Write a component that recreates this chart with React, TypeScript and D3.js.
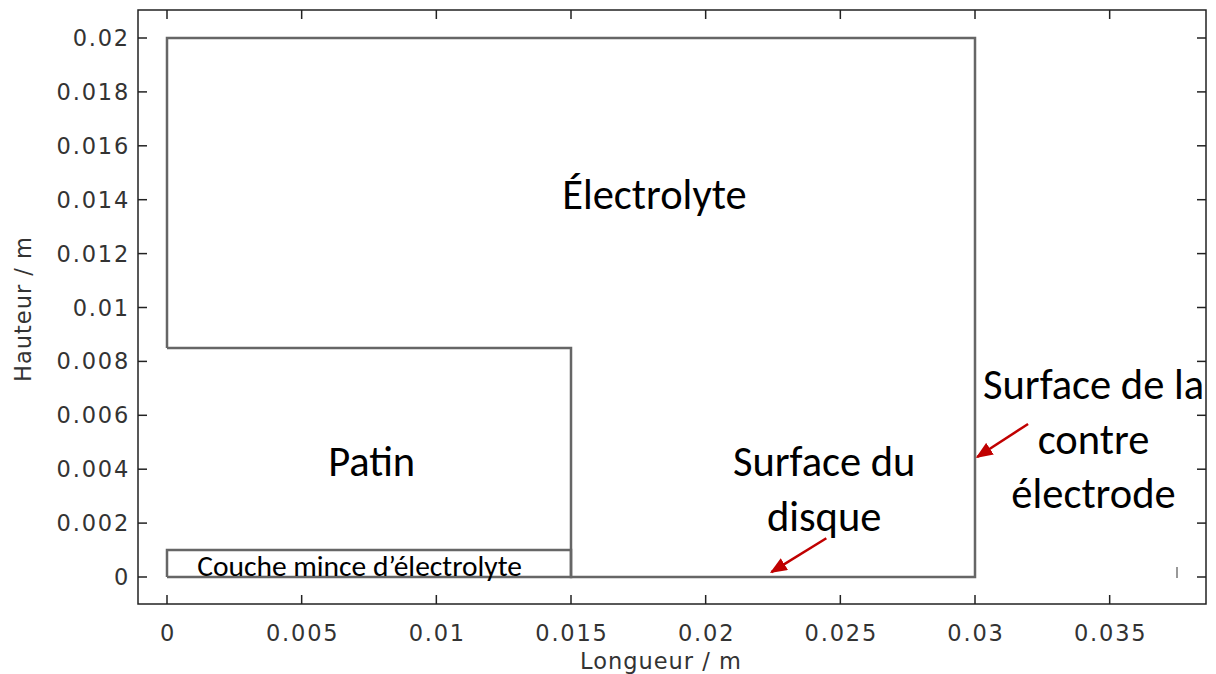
import React from 'react';
import * as d3 from 'd3';

// geometry of the model (metres)
const outerDomain: [number, number][] = [
  [0, 0.0085], [0, 0.02], [0.03, 0.02], [0.03, 0], [0.015, 0], [0.015, 0.0085], [0, 0.0085],
];
const thinLayer: [number, number][] = [
  [0, 0], [0.015, 0], [0.015, 0.001], [0, 0.001], [0, 0],
];
const xTicks = [0, 0.005, 0.01, 0.015, 0.02, 0.025, 0.03, 0.035];
const yTicks = [0, 0.002, 0.004, 0.006, 0.008, 0.01, 0.012, 0.014, 0.016, 0.018, 0.02];
const xTickLabels = ['0', '0.005', '0.01', '0.015', '0.02', '0.025', '0.03', '0.035'];
const yTickLabels = ['0', '0.002', '0.004', '0.006', '0.008', '0.01', '0.012', '0.014', '0.016', '0.018', '0.02'];

// annotations: text lines, x centre and first baseline in data units
const labels = [
  { lines: ['Électrolyte'], x: 0.0181, y: 0.01365 },
  { lines: ['Patin'], x: 0.0076, y: 0.00374 },
  { lines: ['Surface du', 'disque'], x: 0.0244, y: 0.00374 },
  { lines: ['Surface de la', 'contre', 'électrode'], x: 0.0344, y: 0.00660 },
];
const arrows = [
  { from: [0.02448, 0.00144], to: [0.02244, 0.00018] },
  { from: [0.03197, 0.00568], to: [0.03008, 0.00445] },
];

const W = 1216;
const H = 674;
const frame = { left: 138, top: 10, right: 1206, bottom: 604 };

export default function App() {
  const x = d3.scaleLinear().domain([0, 0.03]).range([167, 975]);
  const y = d3.scaleLinear().domain([0, 0.02]).range([577, 38]);
  const line = d3.line<[number, number]>().x(d => x(d[0])).y(d => y(d[1]));
  const tickFont = { fontFamily: 'DejaVu Sans', fontSize: 22.5, fill: '#333', letterSpacing: 1.8 };
  const annFont = 'Carlito, "Open Sans", "Noto Sans", sans-serif';
  const tl = 9;

  return (
    <svg width={W} height={H} style={{ position: 'absolute', left: 0, top: 0, background: '#fff' }}>
      <defs>
        <marker id="ah" viewBox="0 0 10 10" refX="9" refY="5" markerWidth="17" markerHeight="14"
          markerUnits="userSpaceOnUse" orient="auto" preserveAspectRatio="none">
          <path d="M0,0 L10,5 L0,10 z" fill="#c00000" />
        </marker>
      </defs>
      <rect x={frame.left} y={frame.top} width={frame.right - frame.left} height={frame.bottom - frame.top}
        fill="none" stroke="#222" strokeWidth={1.5} />
      {xTicks.map((t, i) => (
        <g key={'x' + i}>
          <line x1={x(t)} x2={x(t)} y1={frame.bottom} y2={frame.bottom - tl} stroke="#222" strokeWidth={1.5} />
          <line x1={x(t)} x2={x(t)} y1={frame.top} y2={frame.top + tl} stroke="#222" strokeWidth={1.5} />
          <text x={x(t) + 1} y={frame.bottom + 37} textAnchor="middle" {...tickFont}>{xTickLabels[i]}</text>
        </g>
      ))}
      {yTicks.map((t, i) => (
        <g key={'y' + i}>
          <line x1={frame.left} x2={frame.left + tl} y1={y(t)} y2={y(t)} stroke="#222" strokeWidth={1.5} />
          <line x1={frame.right} x2={frame.right - tl} y1={y(t)} y2={y(t)} stroke="#222" strokeWidth={1.5} />
          <text x={frame.left - 8} y={y(t) + 8} textAnchor="end" {...tickFont}>{yTickLabels[i]}</text>
        </g>
      ))}
      <text x={661} y={669} textAnchor="middle" {...tickFont} letterSpacing={1}>Longueur / m</text>
      <text transform={`translate(31,${309}) rotate(-90)`} textAnchor="middle" {...tickFont} letterSpacing={1}>Hauteur / m</text>

      <path d={line(outerDomain) || ''} fill="none" stroke="#666" strokeWidth={2.5} />
      <path d={line(thinLayer) || ''} fill="none" stroke="#666" strokeWidth={2.5} />
      <line x1={1177} x2={1177} y1={567} y2={578} stroke="#777" strokeWidth={1.5} />

      {labels.map((l, i) => (
        <text key={i} x={x(l.x)} y={y(l.y)} textAnchor="middle" fontFamily={annFont} fontSize={42.5} fill="#000">
          {l.lines.map((s, j) => (
            <tspan key={j} x={x(l.x)} dy={j === 0 ? 0 : 54.5}>{s}</tspan>
          ))}
        </text>
      ))}
      <text x={x(0.00112)} y={y(0) - 1} fontFamily={annFont} fontSize={29.5} fill="#000">Couche mince d’électrolyte</text>

      {arrows.map((a, i) => (
        <line key={i} x1={x(a.from[0])} y1={y(a.from[1])} x2={x(a.to[0])} y2={y(a.to[1])}
          stroke="#c00000" strokeWidth={2.5} markerEnd="url(#ah)" />
      ))}
    </svg>
  );
}
